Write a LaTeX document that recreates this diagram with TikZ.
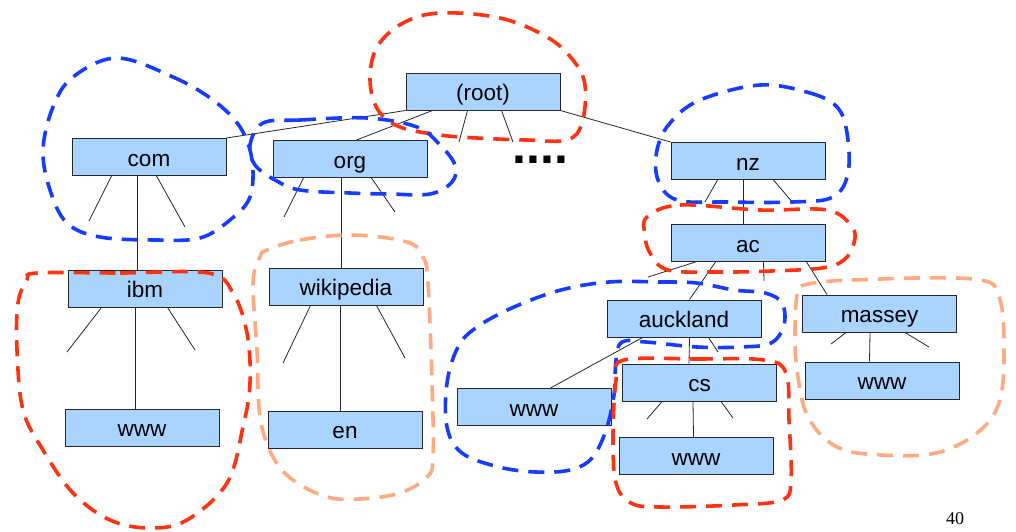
\documentclass[tikz,border=0pt]{standalone}
\usepackage{fontspec}
\setmainfont{Liberation Sans}
\newfontfamily\numfont{Liberation Serif}
\definecolor{boxfill}{RGB}{168,212,255}
\definecolor{dblue}{RGB}{24,60,255}
\definecolor{dred}{RGB}{255,51,17}
\definecolor{dpeach}{RGB}{255,170,128}
\begin{document}
\begin{tikzpicture}[x=1pt,y=-1pt,
  dom/.style={draw=black!85, line width=1pt, fill=boxfill, minimum width=154pt, minimum height=37pt,
    inner sep=0pt, text height=18pt, text depth=0pt, font=\fontsize{22.5}{26}\selectfont},
  link/.style={draw=black!85, line width=0.8pt},
  zone/.style={line width=3.6pt, dash pattern=on 16pt off 10pt}]
\useasboundingbox (0,0) rectangle (1016,531);
\fill[white] (0,0) rectangle (1016,531);

% boxes
\node[dom] (root) at (483,91.5) {(root)};
\node[dom] (com) at (149,157) {com};
\node[dom] (org) at (350,159) {org};
\node[dom] (nz) at (748,161) {nz};
\node[dom] (ibm) at (145,288.5) {ibm};
\node[dom] (www1) at (142,427.5) {www};
\node[dom] (wiki) at (346,286.5) {wikipedia};
\node[dom] (en) at (345,429.5) {en};
\node[dom] (ac) at (748,243) {ac};
\node[dom] (auck) at (684,318.5) {auckland};
\node[dom] (www2) at (534,407) {www};
\node[dom] (cs) at (699.5,382.5) {cs};
\node[dom] (www3) at (696,456) {www};
\node[dom] (massey) at (879.5,313.5) {massey};
\node[dom] (www4) at (882,380.5) {www};

\node[font=\fontsize{50}{50}\selectfont\bfseries, anchor=base west, inner sep=0pt] (dots) at (512.5,163) {....};
\node[font=\numfont\fontsize{18}{20}\selectfont, anchor=base, inner sep=0pt] (pg) at (955,524) {40};

% stub ends
\coordinate (rs1) at (459,142); \coordinate (rs2) at (513,142);
\coordinate (cs1) at (89,221);  \coordinate (cs2) at (185,227);
\coordinate (os1) at (284,217); \coordinate (os2) at (395,212);
\coordinate (is1) at (67,352);  \coordinate (is2) at (195,350);
\coordinate (ws1) at (283,363); \coordinate (ws2) at (405,358);
\coordinate (ns1) at (705,202); \coordinate (ns2) at (793,203);
\coordinate (as1) at (648,277); \coordinate (as2) at (764,281);
\coordinate (aus1) at (718,352);
\coordinate (css1) at (647,419); \coordinate (css2) at (733,418);
\coordinate (ms1) at (831,344); \coordinate (ms2) at (929,347);

% connectors
\draw[link] (root.south west) -- (com.north east);
\draw[link] ([xshift=27pt]root.south west) -- ([xshift=84pt]org.north west);
\draw[link] ([xshift=62pt]root.south west) -- (rs1);
\draw[link] ([xshift=96pt]root.south west) -- (rs2);
\draw[link] (root.south east) -- (nz.north west);

\draw[link] ([xshift=40pt]com.south west) -- (cs1);
\draw[link] ([xshift=85pt]com.south west) -- (cs2);
\draw[link] ([xshift=66pt]com.south west) -- ([xshift=70pt]ibm.north west);

\draw[link] ([xshift=31pt]org.south west) -- (os1);
\draw[link] ([xshift=99pt]org.south west) -- (os2);
\draw[link] ([xshift=69pt]org.south west) -- ([xshift=73pt]wiki.north west);

\draw[link] ([xshift=34pt]ibm.south west) -- (is1);
\draw[link] ([xshift=100pt]ibm.south west) -- (is2);
\draw[link] ([xshift=68pt]ibm.south west) -- ([xshift=71pt]www1.north west);

\draw[link] ([xshift=42pt]wiki.south west) -- (ws1);
\draw[link] ([xshift=108pt]wiki.south west) -- (ws2);
\draw[link] ([xshift=72pt]wiki.south west) -- ([xshift=73pt]en.north west);

\draw[link] ([xshift=47pt]nz.south west) -- (ns1);
\draw[link] ([xshift=103pt]nz.south west) -- (ns2);
\draw[link] ([xshift=73pt]nz.south west) -- ([xshift=73pt]ac.north west);

\draw[link] ([xshift=25pt]ac.south west) -- (as1);
\draw[link] ([xshift=45pt]ac.south west) -- ([xshift=83pt]auck.north west);
\draw[link] ([xshift=93pt]ac.south west) -- (as2);
\draw[link] ([xshift=136pt]ac.south west) -- ([xshift=25pt]massey.north west);

\draw[link] ([xshift=36pt]auck.south west) -- ([xshift=94pt]www2.north west);
\draw[link] ([xshift=83pt]auck.south west) -- ([xshift=67pt]cs.north west);
\draw[link] ([xshift=102pt]auck.south west) -- (aus1);

\draw[link] ([xshift=40pt]cs.south west) -- (css1);
\draw[link] ([xshift=99pt]cs.south west) -- (css2);
\draw[link] ([xshift=71pt]cs.south west) -- ([xshift=75pt]www3.north west);

\draw[link] ([xshift=44pt]massey.south west) -- (ms1);
\draw[link] ([xshift=103pt]massey.south west) -- (ms2);
\draw[link] ([xshift=68pt]massey.south west) -- ([xshift=65pt]www4.north west);

% zones
\draw[zone, dblue] plot[smooth cycle, tension=0.6] coordinates {(117,58) (173,77) (213,100) (240,127) (252,160) (250,197) (230,220) (200,238) (157,240) (100,237) (67,223) (50,190) (43,150) (53,107) (73,77)};
\draw[zone, dred] plot[smooth cycle, tension=0.6] coordinates {(440,13) (500,18) (547,37) (573,60) (585,85) (582,123) (567,140) (527,140) (477,138) (440,135) (400,127) (378,110) (370,80) (377,47) (403,23)};
\draw[zone, dblue] plot[smooth cycle, tension=0.6] coordinates {(263,123) (300,120) (367,118) (417,127) (440,145) (455,165) (452,182) (430,194) (390,194) (350,193) (300,190) (275,180) (255,165) (250,145)};
\draw[zone, dblue] plot[smooth cycle, tension=0.6] coordinates {(760,85) (810,93) (837,107) (847,133) (848,173) (833,197) (793,202) (727,202) (677,200) (658,180) (657,150) (670,123) (700,100)};
\draw[zone, dred] plot[smooth cycle, tension=0.6] coordinates {(647,217) (680,205) (760,210) (827,210) (852,227) (854,243) (844,260) (822,268) (771,271) (719,272) (668,270) (650,253) (645,235)};
\draw[zone, dblue] plot[smooth cycle, tension=0.6] coordinates {(609,282) (661,282) (697,283) (734,290) (765,293) (782,303) (784,325) (771,343) (741,347) (697,347) (646,342) (622,342) (616,360) (614,395) (606,430) (592,458) (570,470) (536,472) (499,467) (462,453) (447,427) (447,383) (458,347) (477,327) (514,307) (561,290)};
\draw[zone, dred] plot[smooth cycle, tension=0.6] coordinates {(624,360) (697,359) (764,360) (786,373) (789,420) (791,480) (782,500) (734,505) (661,507) (631,503) (616,483) (613,437) (616,380)};
\draw[zone, dpeach] plot[smooth cycle, tension=0.6] coordinates {(804,285) (852,280) (973,279) (999,297) (1004,353) (999,403) (977,433) (936,453) (881,455) (837,447) (808,417) (797,370) (795,330) (797,295)};
\draw[zone, dred] plot[smooth cycle, tension=0.6] coordinates {(37,273) (120,273) (208,273) (233,293) (247,333) (250,383) (243,427) (227,483) (187,520) (150,528) (110,520) (73,493) (43,450) (23,410) (17,350) (18,303) (27,280)};
\draw[zone, dpeach] plot[smooth cycle, tension=0.6] coordinates {(267,250) (300,240) (353,235) (407,242) (423,257) (428,283) (432,383) (433,457) (427,477) (400,493) (360,499) (327,497) (293,480) (273,457) (260,417) (257,350) (253,283) (260,257)};
\end{tikzpicture}
\end{document}
